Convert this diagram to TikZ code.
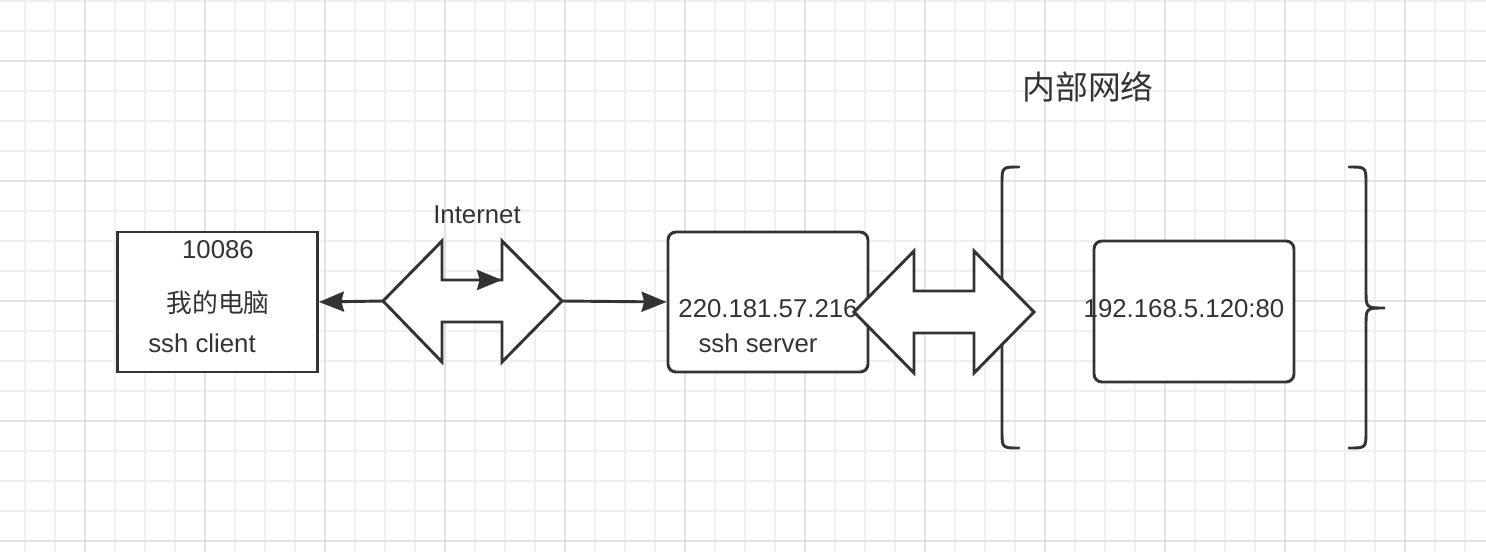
\documentclass[tikz,border=0pt]{standalone}
\usepackage{fontspec}
\setmainfont{Liberation Sans}
\newfontfamily\cjk{Noto Sans CJK SC}
\usepackage{tikz}
\usetikzlibrary{arrows.meta}
\usetikzlibrary{positioning}
\definecolor{ink}{HTML}{333333}
\definecolor{gridminor}{HTML}{F0F0F0}
\definecolor{gridmajor}{HTML}{E2E2E2}

\begin{document}
\begin{tikzpicture}[x=0.03cm,y=-0.03cm,>={Stealth[length=0.75cm,width=0.6cm,inset=0.08cm]},line width=2.5pt,ink,font=\fontsize{22}{26}\selectfont]
	\tikzstyle{box}=[draw, fill=white, minimum width=6cm, minimum height=4.2cm, inner sep=0pt]
	\tikzstyle{rbox}=[box, rounded corners=0.24cm]
	\tikzstyle{fat}=[draw, fill=white, line join=miter]
	\tikzstyle{brace}=[draw, line cap=round]
	\tikzstyle{lbl}=[inner sep=0pt]
	\tikzstyle{minor}=[gridminor, line width=1.6pt]
	\tikzstyle{major}=[gridmajor, line width=1.6pt]

	\useasboundingbox (0,0) rectangle (1486,552);
	% grid paper
	\foreach \x in {25,55,...,1485} \draw[minor] (\x,0) -- (\x,552);
	\foreach \y in {1,31,...,551} \draw[minor] (0,\y) -- (1486,\y);
	\foreach \x in {85,205,...,1485} \draw[major] (\x,0) -- (\x,552);
	\foreach \y in {61,181,...,541} \draw[major] (0,\y) -- (1486,\y);

	% inner network brackets
	\path[brace] (1019,167) .. controls (1002,167) .. (1002,184) -- (1002,431) .. controls (1002,448) .. (1019,448);
	\path[brace] (1349,167) .. controls (1366,167) .. (1366,184) -- (1366,291) .. controls (1366,308) .. (1385,308)
		.. controls (1366,308) .. (1366,325) -- (1366,431) .. controls (1366,448) .. (1349,448);

	\node[box]  (client) at (217.5,302) {};
	\node[rbox] (server) at (768,302)   {};
	\node[rbox, minimum height=4.23cm] (web) at (1194,311.5) {};

	% internet
	\path[fat] (383,301) coordinate (inetL) -- (442,241) -- (442,280) coordinate (inetA) -- (502,280) coordinate (inetB)
		-- (502,241) -- (562,301) coordinate (inetR) -- (502,362) -- (502,322) -- (442,322) -- (442,362) -- cycle;

	\path
		(inetL) edge [->] (client.east)
		(inetR) edge [->] (server.west)
		(inetA) edge [->] (inetB);

	\node[lbl] (num)  at (218,250)  {10086};
	\node[lbl] (pc)   at (218,303)  {\cjk 我的电脑};
	\node[lbl] (cli)  at (202,343)  {ssh client};
	\node[lbl] (inet) at (477,215)  {Internet};
	\node[lbl] (ip)   at (768,309)  {220.181.57.216};
	\node[lbl] (srv)  at (758,343)  {ssh server};
	\node[lbl] (lan)  at (1184,309) {192.168.5.120:80};
	\node[lbl, font=\cjk\fontsize{28}{32}\selectfont] (title) at (1088,87) {内部网络};

	% tunnel
	\path[fat] (854,312) -- (914,251) -- (914,291) -- (974,291) -- (974,251) -- (1034,312)
		-- (974,373) -- (974,333) -- (914,333) -- (914,373) -- cycle;

\end{tikzpicture}
\end{document}
